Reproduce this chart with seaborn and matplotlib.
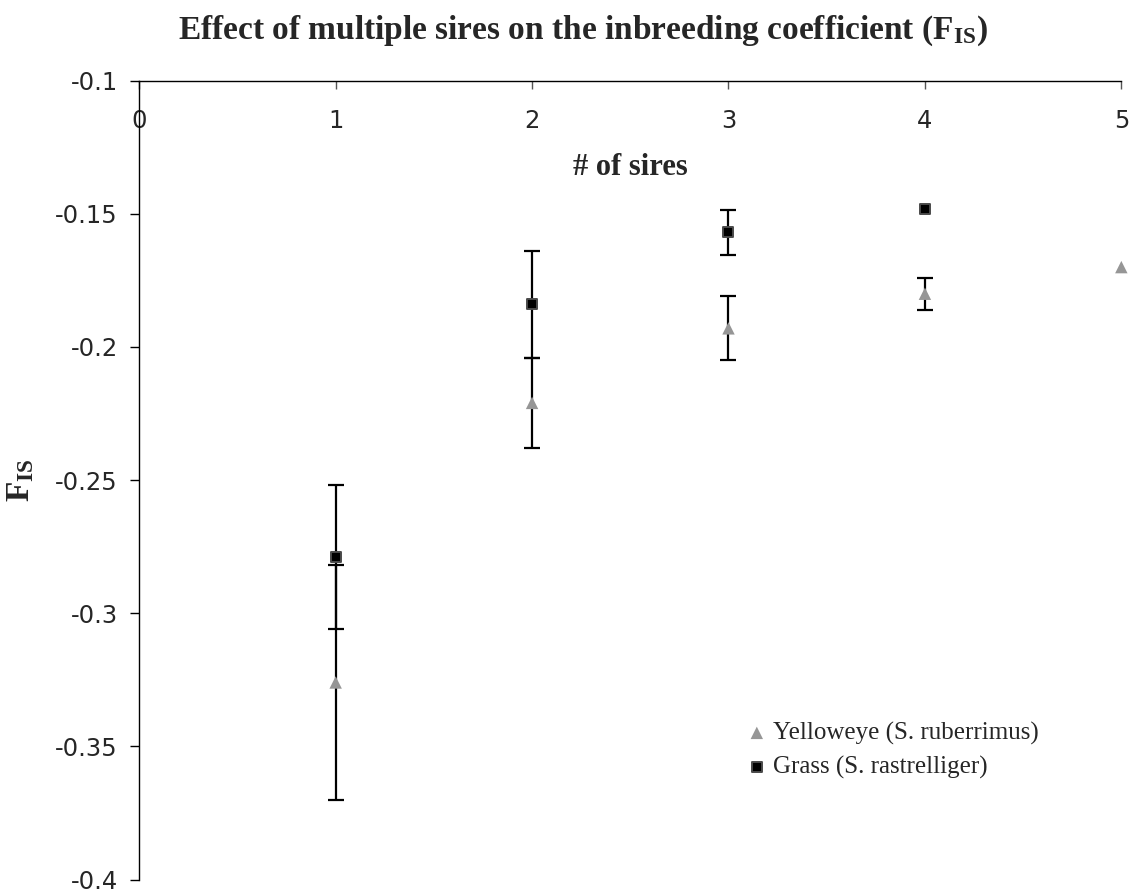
import numpy as np
import pandas as pd
import matplotlib
matplotlib.use("Agg")
import matplotlib.pyplot as plt
from matplotlib.ticker import FuncFormatter, FixedLocator
import seaborn as sns

# Number of sires per brood
sires_yelloweye = [1, 2, 3, 4, 5]
sires_grass = [1, 2, 3, 4]

# Mean F_IS and error (half-length of bar) for each species
fis_yelloweye = [-0.326, -0.221, -0.193, -0.180, -0.170]
err_yelloweye = [0.044, 0.017, 0.012, 0.006, 0.0]
fis_grass = [-0.279, -0.184, -0.157, -0.148]
err_grass = [0.027, 0.020, 0.0085, 0.0]

species_yelloweye = "Yelloweye (S. ruberrimus)"
species_grass = "Grass (S. rastrelliger)"

x_ticks = [0, 1, 2, 3, 4, 5]
y_ticks = [-0.1, -0.15, -0.2, -0.25, -0.3, -0.35, -0.4]

df = pd.DataFrame({
    "sires": sires_yelloweye + sires_grass,
    "fis": fis_yelloweye + fis_grass,
    "err": err_yelloweye + err_grass,
    "species": [species_yelloweye] * len(sires_yelloweye) + [species_grass] * len(sires_grass),
})

sns.set_style("ticks")
plt.rcParams["font.family"] = ["DejaVu Sans"]
plt.rcParams["mathtext.fontset"] = "custom"
plt.rcParams["mathtext.rm"] = "Liberation Serif"
plt.rcParams["mathtext.bf"] = "Liberation Serif:bold"

fig = plt.figure(figsize=(11.33, 8.92), dpi=100)
ax = fig.add_axes([0.1229, 0.0140, 0.8668, 0.8955])

# error bars first, markers on top
for sp, sub in df.groupby("species", sort=False):
    sub = sub[sub["err"] > 0]
    ax.errorbar(sub["sires"], sub["fis"], yerr=sub["err"], fmt="none",
                ecolor="black", elinewidth=1.6, capsize=5.6, capthick=1.6,
                zorder=2, clip_on=False)

palette = {species_yelloweye: "#969696", species_grass: "#000000"}
markers = {species_yelloweye: "^", species_grass: "s"}
sizes = {species_yelloweye: 80, species_grass: 55}

for sp in [species_yelloweye, species_grass]:
    sub = df[df["species"] == sp]
    sns.scatterplot(
        data=sub, x="sires", y="fis", ax=ax,
        marker=markers[sp], color=palette[sp], s=sizes[sp],
        edgecolor="#4a4a4a" if sp == species_grass else "none",
        linewidth=1.4 if sp == species_grass else 0,
        label=sp, zorder=3, clip_on=False,
    )

ax.set_xlim(0, 5)
ax.set_ylim(-0.4, -0.1)

# x axis crosses at the top of the value range
ax.spines["bottom"].set_position(("data", -0.1))
ax.spines["top"].set_visible(False)
ax.spines["right"].set_visible(False)
for s in ["bottom", "left"]:
    ax.spines[s].set_linewidth(1.0)
    ax.spines[s].set_color("black")

ax.xaxis.set_major_locator(FixedLocator(x_ticks))
ax.yaxis.set_major_locator(FixedLocator(y_ticks))
ax.xaxis.set_major_formatter(FuncFormatter(lambda v, p: f"{v:g}"))
ax.yaxis.set_major_formatter(FuncFormatter(lambda v, p: f"{v:g}"))
ax.tick_params(axis="x", direction="out", length=6, width=1, color="#555555",
               labelsize=17.5, pad=14)
ax.tick_params(axis="y", direction="out", length=6.5, width=1, color="black",
               labelsize=17.5, pad=9)

ax.set_xlabel("# of sires", fontsize=22, fontweight="bold", family="Liberation Serif")
ax.xaxis.set_label_coords(0.5, 0.91)
ax.set_ylabel(r"F$\mathregular{_{IS}}$", fontsize=24, fontweight="bold",
              family="Liberation Serif")
ax.yaxis.set_label_coords(-0.105, 0.5)

fig.suptitle(r"Effect of multiple sires on the inbreeding coefficient (F$\mathregular{_{IS}}$)",
             x=0.5146, y=0.985, va="top", fontsize=24, fontweight="bold",
             family="Liberation Serif")

leg = ax.legend(loc="upper left", bbox_to_anchor=(0.611, 0.21), frameon=False,
                prop={"family": "Liberation Serif", "size": 18},
                handlelength=0.6, handletextpad=0.35, labelspacing=0.45,
                markerscale=1.0, borderaxespad=0)

fig.savefig("out.png", dpi=100, facecolor="white")
